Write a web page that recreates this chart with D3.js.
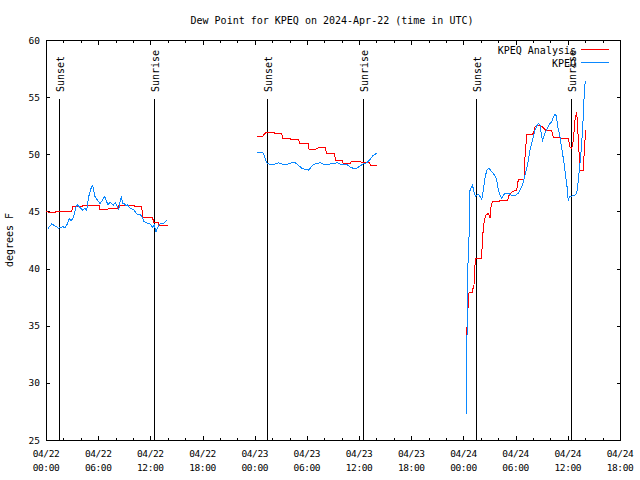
<!DOCTYPE html>
<html><head><meta charset="utf-8">
<script src="https://cdn.jsdelivr.net/npm/d3@7"></script>
<style>
body{margin:0;background:#fff}
svg{display:block}
text{font-family:"DejaVu Sans Mono",monospace;fill:#000}
</style>
</head><body><svg id="c" width="640" height="480"></svg>
<script>
const chartTitle = "Dew Point for KPEQ on 2024-Apr-22 (time in UTC)";
const yAxisLabel = "degrees F";
const seriesNames = ["KPEQ Analysis", "KPEQ"];
const seriesColors = ["#ff0000", "#0a88ff"];
const startTime = "2024-04-22T00:00:00Z";
const endTime = "2024-04-24T18:00:00Z";
const yTickValues = [25, 30, 35, 40, 45, 50, 55, 60];
const sunLabels = ["Sunset", "Sunrise", "Sunset", "Sunrise", "Sunset", "Sunrise"];
const sunHours = [1.46, 12.45, 25.41, 36.45, 49.44, 60.37];

// hours since 2024-04-22 00:00 UTC; null separates data gaps
const analysisHours = [
  0.05, 0.2, 0.25, 1.1, 1.15, 2.95, 3.07, 4.15, 4.22, 6.1, 6.15, 7.12, 7.17, 8.28, 8.32, 10.12, 10.17, 11.0, 11.15, 12.28, 12.34, 12.95, 13.0, 14.06,
  null,
  24.23, 24.95, 25.3, 26.2, 26.25, 27.1, 27.2, 28.1, 28.15, 29.05, 29.15, 30.15, 30.25, 31.05, 31.1, 31.25, 31.3, 32.1, 32.25, 33.15, 33.3, 34.05, 34.15, 35.0, 35.1, 36.15, 36.25, 37.2, 37.3, 38.02,
  null,
  48.33, 48.49, 48.56, 48.64, 49.02, 49.1, 49.2, 49.28, 49.41, 50.1, 50.17, 50.28, 50.4, 50.59, 50.86, 51.05, 51.17, 51.32, 52.01, 52.2, 53.09, 53.16, 53.55, 54.12, 54.31, 54.96, 55.08, 55.27, 55.85, 56.03, 56.23, 56.8, 57.07, 57.46, 58.15, 58.33, 59.1, 59.21, 60.06, 60.25, 60.45, 60.64, 60.83, 61.02, 61.21, 61.4, 61.78, 61.9, 62.06
];
const analysisDewF = [
  45.0, 45.0, 44.92, 44.92, 45.0, 45.0, 45.4, 45.4, 45.56, 45.56, 45.2, 45.2, 45.3, 45.3, 45.56, 45.56, 45.4, 45.4, 44.5, 44.5, 44.0, 44.0, 43.8, 43.8,
  null,
  51.6, 51.6, 51.95, 51.95, 51.85, 51.85, 51.4, 51.4, 51.3, 51.3, 50.96, 50.96, 50.46, 50.46, 50.5, 50.5, 50.63, 50.63, 50.1, 50.1, 49.5, 49.5, 49.23, 49.23, 49.4, 49.4, 49.3, 49.3, 49.06, 49.06,
  null,
  33.8, 36.0, 37.0, 37.9, 37.9, 38.3, 38.3, 40.0, 40.9, 40.9, 42.5, 43.4, 44.25, 44.69, 44.83, 44.4, 45.4, 45.85, 45.85, 45.94, 45.94, 46.3, 46.7, 46.87, 47.8, 47.8, 49.8, 51.7, 51.7, 51.83, 52.41, 52.56, 52.4, 52.12, 52.06, 51.48, 51.48, 51.4, 51.4, 50.66, 50.52, 51.25, 53.0, 53.73, 51.25, 48.6, 48.6, 50.4, 52.1
];

const kpeqHours = [
  0.23, 0.46, 0.66, 0.92, 1.23, 1.41, 1.69, 1.92, 2.18, 2.38, 2.56, 2.68, 2.84, 2.99, 3.14, 3.25, 3.45, 3.6, 3.83, 3.99, 4.22, 4.45, 4.68, 4.91, 5.06, 5.25, 5.37, 5.44, 5.6, 5.83, 6.06, 6.21, 6.44, 6.59, 6.78, 6.9, 7.13, 7.36, 7.55, 7.74, 7.97, 8.2, 8.36, 8.51, 8.66, 8.82, 9.0, 9.2, 9.35, 9.58, 9.81, 10.04, 10.27, 10.5, 10.81, 11.04, 11.27, 11.58, 11.84, 12.07, 12.27, 12.45, 12.65, 12.8, 12.99, 13.22, 13.49, 13.72, 13.95,
  null,
  24.23, 24.92, 25.07, 25.26, 25.45, 25.76, 26.33, 26.71, 27.1, 27.86, 28.25, 28.63, 29.01, 29.4, 29.78, 30.16, 30.36, 30.67, 31.13, 31.5, 31.88, 32.65, 33.23, 33.49, 33.8, 34.57, 34.96, 35.33, 35.72, 36.1, 36.48, 36.87, 37.25, 37.56, 37.83, 38.02,
  null,
  48.33, 48.35, 48.44, 48.52, 48.67, 48.7, 48.83, 49.02, 49.13, 49.25, 49.41, 49.52, 49.71, 49.9, 50.1, 50.28, 50.48, 50.67, 50.86, 51.05, 51.25, 51.43, 51.63, 51.82, 51.94, 52.09, 52.24, 52.4, 52.58, 52.78, 53.16, 53.55, 53.93, 54.31, 54.5, 54.7, 54.88, 55.08, 55.27, 55.46, 55.65, 55.85, 56.03, 56.23, 56.42, 56.61, 56.8, 56.92, 57.07, 57.18, 57.38, 57.57, 57.76, 57.95, 58.15, 58.33, 58.53, 58.68, 58.84, 59.1, 59.3, 59.48, 59.6, 59.76, 59.91, 60.06, 60.17, 60.45, 60.83, 61.02, 61.21, 61.4, 61.6, 61.78, 61.9, 62.01
];
const kpeqDewF = [
  43.52, 43.72, 43.9, 43.78, 43.66, 43.52, 43.6, 43.66, 43.6, 43.8, 44.1, 44.4, 44.2, 44.3, 44.5, 44.8, 45.4, 45.6, 45.4, 45.3, 45.1, 45.27, 45.1, 46.3, 46.7, 47.2, 47.3, 47.0, 46.35, 46.06, 45.85, 45.7, 45.94, 46.15, 46.3, 46.0, 45.56, 45.85, 45.7, 45.56, 45.76, 45.4, 45.18, 45.85, 46.3, 45.7, 45.7, 45.47, 45.6, 45.36, 45.24, 45.18, 44.97, 44.74, 44.74, 44.54, 44.1, 44.0, 43.96, 43.8, 43.6, 43.8, 43.2, 43.5, 43.8, 43.96, 43.96, 44.1, 44.25,
  null,
  50.17, 50.17, 49.93, 49.5, 49.2, 49.12, 49.15, 49.26, 49.15, 49.15, 49.26, 49.26, 49.06, 48.77, 48.68, 48.62, 48.77, 49.06, 49.2, 49.26, 49.15, 49.15, 49.2, 49.26, 49.15, 49.12, 48.9, 48.77, 48.77, 48.97, 49.15, 49.26, 49.55, 49.85, 49.99, 50.08,
  null,
  27.3, 30.5, 35.9, 40.4, 43.4, 46.7, 47.0, 47.3, 47.0, 46.6, 46.3, 46.43, 46.5, 46.3, 46.06, 46.87, 47.9, 48.6, 48.77, 48.68, 48.47, 48.33, 48.1, 47.8, 47.16, 46.7, 46.35, 46.15, 46.43, 46.58, 46.58, 46.4, 46.4, 46.58, 46.87, 47.16, 47.6, 48.18, 48.77, 49.5, 50.37, 50.96, 51.54, 52.1, 52.47, 52.7, 52.56, 51.97, 51.19, 51.4, 51.83, 52.18, 52.41, 52.7, 52.85, 53.29, 53.5, 53.35, 52.41, 51.54, 50.52, 49.65, 49.06, 48.04, 47.16, 45.9, 46.3, 46.35, 46.43, 46.58, 47.75, 49.2, 50.96, 53.29, 55.6, 56.44
];

const t0 = new Date(startTime);
const toDate = h => new Date(t0.getTime() + h * 3600e3);
const pack = (hs, vs) => hs.map((h, i) => ({t: h === null ? null : toDate(h), v: vs[i]}));

const svg = d3.select("#c");
const L = 46, R = 620, T = 40, B = 440;
const x = d3.scaleUtc().domain([new Date(startTime), new Date(endTime)]).range([L, R]);
const y = d3.scaleLinear().domain([25, 60]).range([B, T]);
const px = v => Math.round(v) + 0.5;

const g = svg.append("g");

// frame
g.append("rect").attr("x", L + 0.5).attr("y", T + 0.5).attr("width", R - L).attr("height", B - T)
  .attr("fill", "none").attr("stroke", "#000").attr("shape-rendering", "crispEdges");

// x ticks
const minor = d3.utcHour.every(2).range(x.domain()[0], new Date(x.domain()[1].getTime() + 1));
minor.forEach(d => {
  const major = d.getUTCHours() % 6 === 0;
  const len = major ? 4 : 2;
  const xx = px(x(d));
  g.append("line").attr("x1", xx).attr("x2", xx).attr("y1", B).attr("y2", B - len).attr("stroke", "#000").attr("shape-rendering", "crispEdges");
  g.append("line").attr("x1", xx).attr("x2", xx).attr("y1", T + 1).attr("y2", T + 1 + len).attr("stroke", "#000").attr("shape-rendering", "crispEdges");
  if (major) {
    const t = g.append("text").attr("text-anchor", "middle").attr("font-size", 9.5).attr("letter-spacing", "-0.4");
    t.append("tspan").attr("x", x(d)).attr("y", 457).text(d3.utcFormat("%m/%d")(d));
    t.append("tspan").attr("x", x(d)).attr("y", 471).text(d3.utcFormat("%H:%M")(d));
  }
});

// y ticks
yTickValues.forEach(v => {
  const yy = px(y(v));
  g.append("line").attr("x1", L).attr("x2", L + 4).attr("y1", yy).attr("y2", yy).attr("stroke", "#000").attr("shape-rendering", "crispEdges");
  g.append("line").attr("x1", R + 1).attr("x2", R - 3).attr("y1", yy).attr("y2", yy).attr("stroke", "#000").attr("shape-rendering", "crispEdges");
  g.append("text").attr("x", 40).attr("y", y(v) + 3.5).attr("text-anchor", "end").attr("font-size", 9.5).text(v);
});

// title and axis label
g.append("text").attr("x", 332).attr("y", 24).attr("text-anchor", "middle").attr("font-size", 10).text(chartTitle);
g.append("text").attr("transform", "translate(13,240) rotate(-90)").attr("text-anchor", "middle").attr("font-size", 10).text(yAxisLabel);

// sunrise / sunset
sunHours.forEach((h, i) => {
  const xx = px(x(toDate(h)));
  g.append("line").attr("x1", xx).attr("x2", xx).attr("y1", 99).attr("y2", B).attr("stroke", "#000").attr("shape-rendering", "crispEdges");
  g.append("text").attr("transform", `translate(${xx + 4},92) rotate(-90)`).attr("font-size", 10).text(sunLabels[i]);
});

// series
const line = d3.line().defined(d => d.v !== null && d.t !== null).x(d => x(d.t)).y(d => y(d.v));
const series = [pack(analysisHours, analysisDewF), pack(kpeqHours, kpeqDewF)];
series.forEach((data, i) => {
  g.append("path").datum(data).attr("d", line).attr("fill", "none").attr("stroke", seriesColors[i])
    .attr("stroke-width", 1).attr("shape-rendering", "crispEdges");
});

// legend
seriesNames.forEach((n, i) => {
  const ly = 49.5 + i * 13;
  g.append("text").attr("x", 576).attr("y", ly + 4).attr("text-anchor", "end").attr("font-size", 10).text(n);
  g.append("line").attr("x1", 581).attr("x2", 609).attr("y1", ly).attr("y2", ly).attr("stroke", seriesColors[i]).attr("shape-rendering", "crispEdges");
});
</script>
</body></html>
